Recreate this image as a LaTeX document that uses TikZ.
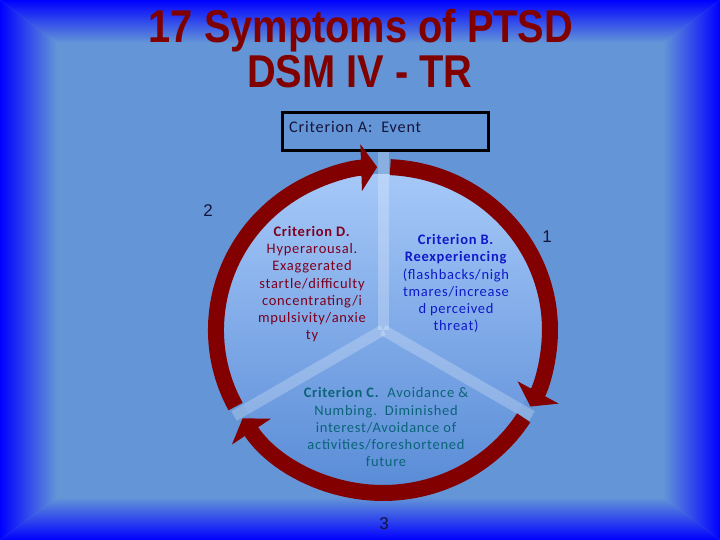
\documentclass[tikz,border=0pt]{standalone}
\usepackage{fontspec}
\usepackage{graphicx}
\setmainfont{Liberation Sans}
\newfontfamily\critfont[LetterSpace=5]{Carlito}
\usetikzlibrary{arrows.meta,calc}
\definecolor{panel}{RGB}{100,150,215}
\definecolor{edgeblue}{RGB}{0,0,255}
\definecolor{arrowred}{RGB}{130,0,0}
\definecolor{titlered}{RGB}{128,0,0}
\definecolor{textD}{RGB}{125,0,30}
\definecolor{textB}{RGB}{15,25,200}
\definecolor{textC}{RGB}{10,100,120}
\definecolor{navy}{RGB}{20,20,60}
\definecolor{disktop}{RGB}{165,200,248}
\definecolor{diskbot}{RGB}{90,140,215}
\begin{document}
\begin{tikzpicture}[x=1pt,y=1pt,
  cyc/.style={draw=arrowred, line width=16pt, -{Triangle[width=46pt,length=16pt]}},
  crit/.style={align=center, inner sep=0pt, anchor=base, font={\critfont\fontsize{14.5}{17.3}\selectfont}},
  num/.style={font={\fontsize{17}{17}\selectfont}, text=navy, anchor=base, inner sep=0pt},
  stripe/.style={draw=white, draw opacity=0.24, line width=11pt},
  titletext/.style={anchor=base, inner sep=0pt, text=titlered, font={\bfseries\fontsize{46}{46}\selectfont}}
]
\useasboundingbox (0,0) rectangle (720,540);
% background panel and bevels
\fill[panel] (0,0) rectangle (720,540);
\shade[top color=edgeblue, middle color=panel!40!edgeblue, bottom color=panel] (0,540) -- (720,540) -- (663,497) -- (57,497) -- cycle;
\shade[bottom color=edgeblue, middle color=panel!40!edgeblue, top color=panel] (0,0) -- (720,0) -- (663,43) -- (57,43) -- cycle;
\shade[left color=edgeblue, middle color=panel!40!edgeblue, right color=panel] (0,0) -- (0,540) -- (57,497) -- (57,43) -- cycle;
\shade[right color=edgeblue, middle color=panel!40!edgeblue, left color=panel] (720,0) -- (720,540) -- (663,497) -- (663,43) -- cycle;
% title
\node[titletext] (t1) at (361,497) {\scalebox{0.865}[1]{17 Symptoms of PTSD}};
\node[titletext] (t2) at (360,452) {\scalebox{0.865}[1]{DSM IV - TR}};
% disk
\coordinate (c) at (383,210);
\shade[top color=disktop, bottom color=diskbot] (c) ellipse [x radius=159, y radius=156];
\draw[stripe] (c) -- ++(90:178);
\draw[stripe] (c) -- ++(210:172);
\draw[stripe] (c) -- ++(330:172);
% criterion A box
\node[draw=black, line width=3pt, minimum width=206pt, minimum height=38pt, inner sep=0pt] (abox) at (385,408) {};
\node[anchor=base west, inner sep=0pt, text=navy, font={\critfont\fontsize{16.2}{17}\selectfont}] (atext) at (289,407) {Criterion A:\ \ Event};
% cycle arrows
\draw[cyc] ($(c)+(87.5:167 and 163)$) arc[start angle=87.5, end angle=-28, x radius=167, y radius=163];
\draw[cyc] ($(c)+(-32.6:167 and 163)$) arc[start angle=-32.6, end angle=-147.2, x radius=167, y radius=163];
\draw[cyc] ($(c)+(208:167 and 163)$) arc[start angle=208, end angle=92, x radius=167, y radius=163];
% criterion texts (anchor = baseline of last line)
\node[crit, text=textD] (d) at (312,200) {\textbf{Criterion D.}\\Hyperarousal.\\Exaggerated\\startle/difficulty\\concentrating/i\\mpulsivity/anxie\\ty};
\node[crit, text=textB] (b) at (456,209) {\textbf{Criterion B.}\\\textbf{Reexperiencing}\\(flashbacks/nigh\\tmares/increase\\d perceived\\threat)};
\node[crit, text=textC] (cc) at (386,73) {\textbf{Criterion C.}\ \ Avoidance \&\\Numbing.\ \ Diminished\\interest/Avoidance of\\activities/foreshortened\\future};
% numbers
\node[num] (n1) at (547,297) {1};
\node[num] (n2) at (208,323) {2};
\node[num] (n3) at (384,10) {3};
\end{tikzpicture}
\end{document}
